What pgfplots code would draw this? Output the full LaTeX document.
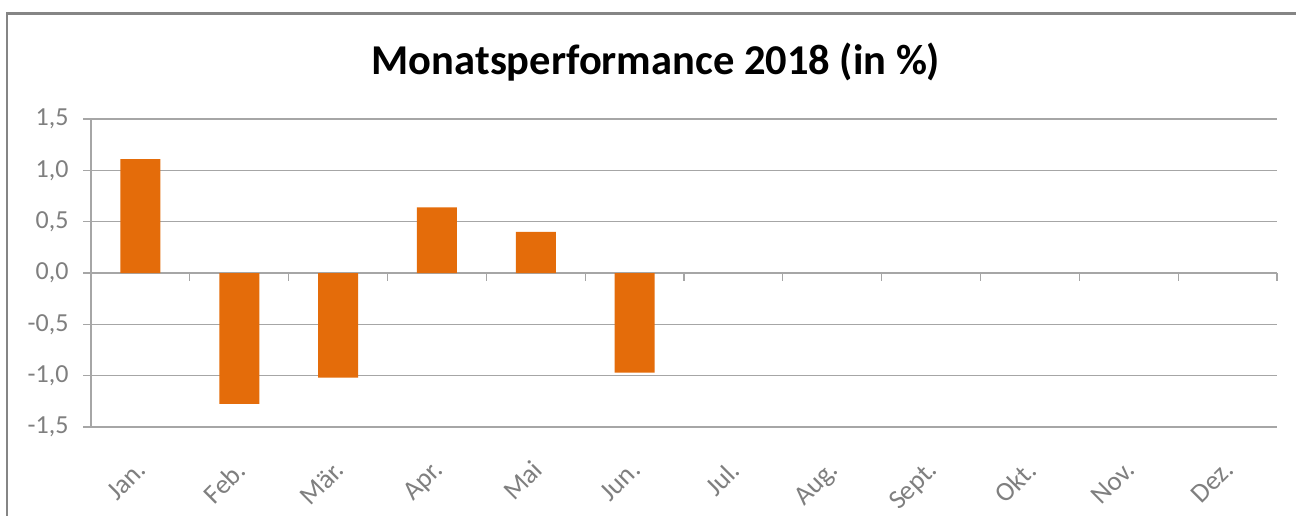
\documentclass[border=0pt]{standalone}
\usepackage{pgfplots}
\pgfplotsset{compat=1.18}
\usepackage{fontspec}
\setmainfont{Carlito}
\definecolor{barorange}{HTML}{E46C0A}
\definecolor{gridgray}{HTML}{A6A6A6}
\definecolor{labelgray}{HTML}{7F7F7F}
\definecolor{framegray}{HTML}{858585}
\begin{document}
\begin{tikzpicture}
\useasboundingbox (0,0) rectangle (1296bp,516bp);
\clip (0,0) rectangle (1296bp,516bp);
\fill[white] (0,0) rectangle (1296bp,516bp);
\draw[framegray, line width=2.5bp] (7bp,-10bp) -- (7bp,502.5bp) -- (1310bp,502.5bp);
\node[font=\fontsize{42.5bp}{50bp}\selectfont\bfseries, text=black] at (656bp,454bp) {Monatsperformance 2018 (in \%)};
\begin{axis}[
  at={(91bp,89bp)}, anchor=south west,
  scale only axis, width=1186bp, height=308bp,
  xmin=-0.5, xmax=11.5, ymin=-1.5, ymax=1.5,
  ytick={-1.5,-1,-0.5,0,0.5,1,1.5},
  xtick={0,...,11},
  xticklabels={Jan.,Feb.,Mär.,Apr.,Mai,Jun.,Jul.,Aug.,Sept.,Okt.,Nov.,Dez.},
  axis x line*=bottom,
  axis y line*=left,
  x axis line style={draw=none},
  xtick style={draw=none},
  y axis line style={gridgray, line width=1.2bp, -},
  ytick style={gridgray, line width=1.2bp},
  tick align=outside,
  major tick length=8bp,
  ymajorgrids,
  grid style={gridgray, line width=1.2bp},
  /pgf/number format/.cd, use comma, fixed, fixed zerofill, precision=1, assume math mode=true,
  /pgfplots/.cd,
  yticklabel style={font=\fontsize{26bp}{31bp}\selectfont, text=labelgray, xshift=-11bp},
  xticklabel style={font=\fontsize{27bp}{32bp}\selectfont, text=labelgray, xshift=-5bp, yshift=-19bp, rotate=45, anchor=north east},
  ybar, bar width=40bp, bar shift=0pt,
  clip=false,
]
\addplot[fill=barorange, draw=none] coordinates {
 (0,1.11) (1,-1.275) (2,-1.02) (3,0.64) (4,0.40) (5,-0.97)
};
\foreach \k in {0,...,11} {
  \edef\tmp{\noexpand\draw[gridgray, line width=1.2bp] (axis cs:\k+0.5,0) -- ([yshift=-8bp]axis cs:\k+0.5,0);}
  \tmp
}
\end{axis}
\end{tikzpicture}
\end{document}
